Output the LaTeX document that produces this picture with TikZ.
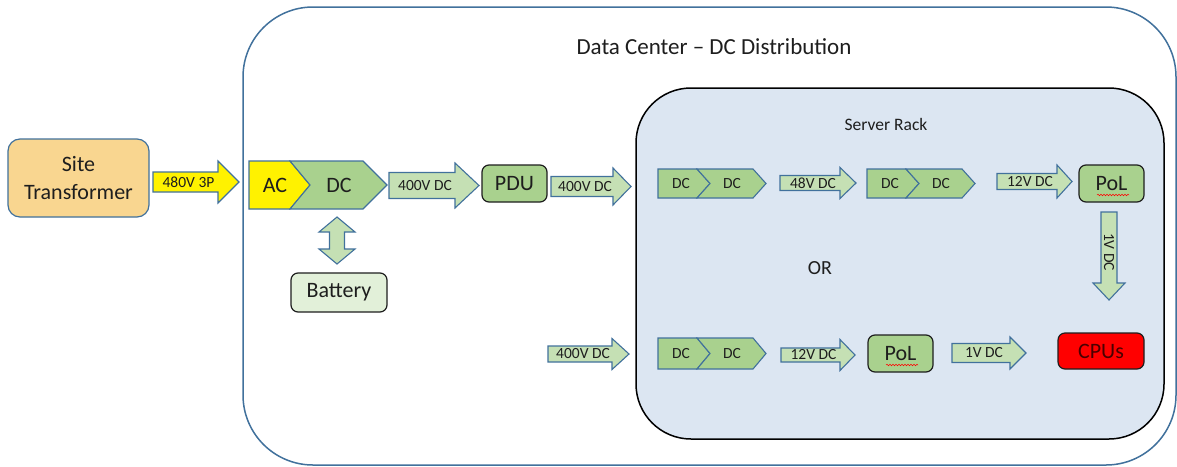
\documentclass[tikz,border=0pt]{standalone}
\usepackage{fontspec}
\setmainfont{Carlito}
\usetikzlibrary{decorations.pathmorphing}

\definecolor{edge}{HTML}{41719C}
\definecolor{ink}{HTML}{1E1E1E}
\definecolor{cgreen}{HTML}{A9D18E}
\definecolor{clight}{HTML}{C5E0B4}
\definecolor{cpale}{HTML}{E2F0D9}
\definecolor{rackfill}{HTML}{DCE6F2}
\definecolor{transfill}{HTML}{F9D690}
\definecolor{cpuink}{HTML}{4A0000}

\tikzset{
  big/.style={font=\fontsize{22}{28}\selectfont, text=ink},
  small/.style={font=\fontsize{15.5}{17}\selectfont, text=ink, inner sep=0pt},
  gbox/.style={draw=ink, line width=1.2pt, rounded corners=7pt, fill=cgreen,
               inner sep=0pt, big},
  blockarrow/.style={draw=edge, line width=1.1pt, line join=miter},
  chev/.style={draw=edge, line width=1.1pt, line join=miter, fill=cgreen},
  squiggle/.style={draw=red, line width=0.5pt,
                   decorate, decoration={snake, amplitude=0.8pt, segment length=3pt}}
}

% horizontal block arrow: name, left x, neck x, tip x, centre y,
% half body width, half head width, fill, label
\newcommand{\harrow}[9]{%
  \draw[blockarrow, fill=#8] (#2,#5-#6) -- (#3,#5-#6) -- (#3,#5-#7) -- (#4,#5)
    -- (#3,#5+#7) -- (#3,#5+#6) -- (#2,#5+#6) -- cycle;
  \node[small] (#1) at ({(#2+#3)/2+3},#5) {#9};}

% a DC/DC converter drawn as two chevrons: name, left x, top y, bottom y
\newcommand{\dcdc}[4]{%
  \draw[chev] (#2,#3) -- (#2+39,#3) -- (#2+52,{(#3+#4)/2}) -- (#2+39,#4)
    -- (#2,#4) -- cycle;
  \draw[chev] (#2+39,#3) -- (#2+95,#3) -- (#2+108,{(#3+#4)/2}) -- (#2+95,#4)
    -- (#2+39,#4) -- (#2+52,{(#3+#4)/2}) -- cycle;
  \node[small] (#1in) at (#2+23,{(#3+#4)/2}) {DC};
  \node[small] (#1out) at (#2+74,{(#3+#4)/2}) {DC};}

\begin{document}
\begin{tikzpicture}[x=1pt, y=-1pt]
\useasboundingbox (0,0) rectangle (1177,466);
\fill[white] (0,0) rectangle (1177,466);

% data centre enclosure
\draw[edge, line width=1.5pt, rounded corners=70pt] (243,7) rectangle (1176,465);
\node[font=\fontsize{23}{26}\selectfont, text=ink] (dctitle) at (714,47)
  {Data Center – DC Distribution};

% server rack
\draw[black, line width=1.5pt, fill=rackfill, rounded corners=55pt]
  (636,88) rectangle (1164,439);
\node[font=\fontsize{17.5}{22}\selectfont, text=ink] (racktitle) at (886,124) {Server Rack};

% site transformer
\node[big, draw=edge, line width=1.2pt, fill=transfill, rounded corners=12pt,
      minimum width=141pt, minimum height=78pt, inner sep=0pt, align=center]
  (site) at (78.5,178) {Site\\Transformer};

\harrow{feed}{153}{218}{239}{182}{10}{21}{yellow}{480V 3P}

% rectifier: AC in, DC out
\draw[chev, fill=yellow] (249,161) -- (290,161) -- (310,185) -- (290,209)
  -- (249,209) -- cycle;
\draw[chev] (290,161) -- (363,161) -- (387,185) -- (363,209) -- (290,209)
  -- (310,185) -- cycle;
\node[big] (acin) at (275,185) {AC};
\node[big] (dcout) at (339,185) {DC};

% battery link
\draw[blockarrow, fill=clight] (337,217) -- (355,232) -- (344.5,232) -- (344.5,249)
  -- (355,249) -- (337,264) -- (319,249) -- (329.5,249) -- (329.5,232)
  -- (319,232) -- cycle;
\node[gbox, fill=cpale, minimum width=96pt, minimum height=39pt]
  (battery) at (339,292.5) {Battery};

\harrow{busA}{389}{455}{479}{185.5}{13}{22.5}{clight}{400V DC}
\node[gbox, minimum width=65pt, minimum height=37pt] (pdu) at (514.5,183.5) {PDU};
\harrow{busB}{551}{613}{631}{186.5}{10}{18.5}{clight}{400V DC}

% rack, upper path
\dcdc{convA}{658}{169}{198}
\harrow{busC}{780}{840}{856}{183}{7.5}{15.5}{clight}{48V DC}
\dcdc{convB}{867}{169}{198}
\harrow{busD}{997}{1057}{1072}{181.5}{8}{16.5}{clight}{12V DC}
\node[gbox, minimum width=65pt, minimum height=37pt] (polA) at (1111.5,183.5) {PoL};
\draw[squiggle] (1097,195) -- (1129,195);

% down to the processors
\draw[blockarrow, fill=clight] (1101,212) -- (1117,212) -- (1117,283) -- (1125,283)
  -- (1109,300) -- (1093,283) -- (1101,283) -- cycle;
\node[small, rotate=-90] (busE) at (1109,252) {1V DC};

\node[font=\fontsize{20}{24}\selectfont, text=ink] (alt) at (820,268) {OR};

% rack, lower path
\harrow{busF}{548}{612}{629}{354}{8}{15.5}{clight}{400V DC}
\dcdc{convC}{658}{338}{369}
\harrow{busG}{781}{840}{855}{355}{7}{15.5}{clight}{12V DC}
\node[gbox, minimum width=65pt, minimum height=37pt] (polB) at (900.5,353.5) {PoL};
\draw[squiggle] (886,365) -- (918,365);
\harrow{busH}{952}{1010}{1026}{353}{9.5}{16}{clight}{1V DC}
\node[gbox, fill=red, text=cpuink, minimum width=86pt, minimum height=36pt]
  (cpus) at (1101,351) {CPUs};
\end{tikzpicture}
\end{document}
